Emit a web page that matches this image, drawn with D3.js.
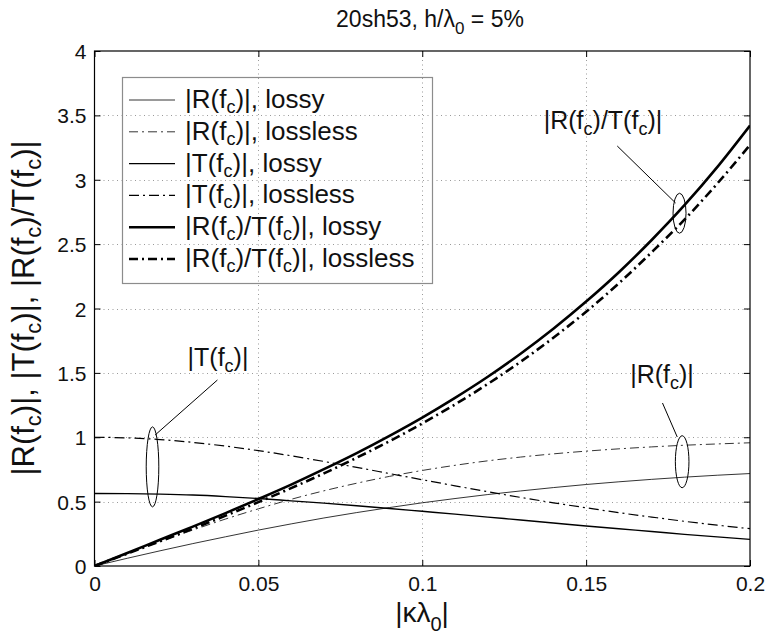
<!DOCTYPE html>
<html>
<head>
<meta charset="utf-8">
<script src="https://cdn.jsdelivr.net/npm/d3@7/dist/d3.min.js"></script>
<style>
  html, body { margin: 0; padding: 0; background: #fff; }
  svg { display: block; font-family: "Liberation Sans", Arial, Helvetica, sans-serif; }
</style>
</head>
<body>
<svg id="chart" width="765" height="641"></svg>
<script>
// |κλ0| sample points
const kappa = [0, 0.01, 0.02, 0.03, 0.04, 0.05, 0.06, 0.07, 0.08, 0.09, 0.10,
               0.11, 0.12, 0.13, 0.14, 0.15, 0.16, 0.17, 0.18, 0.19, 0.20];

const rLossy     = [0, 0.060, 0.118, 0.174, 0.227, 0.279, 0.327, 0.373, 0.415, 0.454, 0.491,
                    0.524, 0.555, 0.583, 0.609, 0.633, 0.654, 0.673, 0.690, 0.705, 0.718];
const rLossless  = [0, 0.095, 0.189, 0.279, 0.365, 0.444, 0.518, 0.584, 0.643, 0.696, 0.742,
                    0.782, 0.817, 0.846, 0.871, 0.892, 0.910, 0.925, 0.938, 0.948, 0.957];
const tLossy     = [0.563, 0.562, 0.558, 0.551, 0.539, 0.524, 0.506, 0.488, 0.468, 0.447, 0.425,
                    0.403, 0.380, 0.357, 0.334, 0.311, 0.289, 0.268, 0.246, 0.226, 0.207];
const tLossless  = [1.000, 0.995, 0.982, 0.960, 0.931, 0.896, 0.856, 0.812, 0.766, 0.718, 0.670,
                    0.623, 0.577, 0.533, 0.491, 0.452, 0.414, 0.380, 0.347, 0.317, 0.290];
const rtLossy    = [0, 0.101, 0.204, 0.306, 0.411, 0.520, 0.632, 0.752, 0.877, 1.011, 1.153,
                    1.306, 1.470, 1.649, 1.843, 2.054, 2.282, 2.532, 2.802, 3.098, 3.421];
const rtLossless = [0, 0.096, 0.192, 0.290, 0.391, 0.496, 0.605, 0.719, 0.841, 0.969, 1.107,
                    1.255, 1.414, 1.586, 1.773, 1.975, 2.196, 2.437, 2.690, 2.970, 3.270];

const xTicks = [0, 0.05, 0.1, 0.15, 0.2];
const xTickLabels = ["0", "0.05", "0.1", "0.15", "0.2"];
const yTicks = [0, 0.5, 1, 1.5, 2, 2.5, 3, 3.5, 4];
const yTickLabels = ["0", "0.5", "1", "1.5", "2", "2.5", "3", "3.5", "4"];

// text pieces: [string, isSubscript]
const legendLabels = [
  [["|R(f", 0], ["c", 1], [")|, lossy", 0]],
  [["|R(f", 0], ["c", 1], [")|, lossless", 0]],
  [["|T(f", 0], ["c", 1], [")|, lossy", 0]],
  [["|T(f", 0], ["c", 1], [")|, lossless", 0]],
  [["|R(f", 0], ["c", 1], [")/T(f", 0], ["c", 1], [")|, lossy", 0]],
  [["|R(f", 0], ["c", 1], [")/T(f", 0], ["c", 1], [")|, lossless", 0]]
];

const series = [
  { values: rLossy,     width: 0.8, dash: null },
  { values: rLossless,  width: 0.8, dash: "9,4,2,4" },
  { values: tLossy,     width: 1.4, dash: null },
  { values: tLossless,  width: 1.2, dash: "10,4,2,4" },
  { values: rtLossy,    width: 2.6, dash: null },
  { values: rtLossless, width: 2.6, dash: "9,4,2,4" }
];

const svg = d3.select("#chart");
const plotL = 94.5, plotR = 750, plotT = 51, plotB = 566;

const x = d3.scaleLinear().domain([0, 0.2]).range([plotL, plotR]);
const y = d3.scaleLinear().domain([0, 4]).range([plotB, plotT]);

function richText(sel, pieces, size, subSize, subShift) {
  pieces.forEach(([t, sub], i) => {
    const ts = sel.append("tspan").text(t);
    if (sub) {
      ts.attr("font-size", subSize).attr("dy", subShift);
    } else {
      ts.attr("font-size", size);
      const prevSub = i > 0 && pieces[i - 1][1];
      if (prevSub) ts.attr("dy", -subShift);
    }
  });
  return sel;
}

// grid
const grid = svg.append("g").attr("stroke", "#9a9a9a").attr("stroke-width", 1)
  .attr("stroke-dasharray", "1,3.5");
grid.selectAll(".gx").data(xTicks.slice(1, -1)).join("line")
  .attr("x1", d => Math.round(x(d)) + 0.5).attr("x2", d => Math.round(x(d)) + 0.5)
  .attr("y1", plotT).attr("y2", plotB);
grid.selectAll(".gy").data(yTicks.slice(1, -1)).join("line")
  .attr("x1", plotL).attr("x2", plotR)
  .attr("y1", d => Math.round(y(d)) + 0.5).attr("y2", d => Math.round(y(d)) + 0.5);

// axes with inward ticks on all four sides
const axB = svg.append("g").attr("transform", `translate(0,${plotB})`)
  .call(d3.axisBottom(x).tickValues(xTicks).tickSize(-6).tickPadding(10)
    .tickFormat((d, i) => xTickLabels[i]));
const axT = svg.append("g").attr("transform", `translate(0,${plotT})`)
  .call(d3.axisTop(x).tickValues(xTicks).tickSize(-6).tickFormat(""));
const axL = svg.append("g").attr("transform", `translate(${plotL},0)`)
  .call(d3.axisLeft(y).tickValues(yTicks).tickSize(-6).tickPadding(8)
    .tickFormat((d, i) => yTickLabels[i]));
const axR = svg.append("g").attr("transform", `translate(${plotR},0)`)
  .call(d3.axisRight(y).tickValues(yTicks).tickSize(-6).tickFormat(""));
[axB, axT, axL, axR].forEach(a => {
  a.select(".domain").remove();
  a.selectAll("line").attr("stroke", "#000").attr("stroke-width", 1);
  a.selectAll("text").attr("font-size", 21).attr("fill", "#111")
    .attr("font-family", "Liberation Sans, Arial, sans-serif");
});
axL.selectAll("text").attr("dy", "0.36em");

// frame
svg.append("rect").attr("x", plotL).attr("y", plotT)
  .attr("width", plotR - plotL).attr("height", plotB - plotT)
  .attr("fill", "none").attr("stroke", "#000").attr("stroke-width", 1.2);

// curves
const line = d3.line().x((d, i) => x(kappa[i])).y(d => y(d)).curve(d3.curveMonotoneX);
svg.append("clipPath").attr("id", "plotclip")
  .append("rect").attr("x", plotL).attr("y", plotT).attr("width", plotR - plotL).attr("height", plotB - plotT);
const curves = svg.append("g").attr("clip-path", "url(#plotclip)");
series.forEach(s => {
  curves.append("path").datum(s.values)
    .attr("d", line).attr("fill", "none").attr("stroke", "#000")
    .attr("stroke-width", s.width)
    .attr("stroke-dasharray", s.dash)
    .attr("stroke-linejoin", "round");
});

// legend
const lgX = 122, lgY = 77, lgW = 310, lgH = 206, rowH = 31.8, row0 = 100;
svg.append("rect").attr("x", lgX + 0.5).attr("y", lgY + 0.5).attr("width", lgW).attr("height", lgH)
  .attr("fill", "none").attr("stroke", "#8c8c8c").attr("stroke-width", 1.2);
series.forEach((s, i) => {
  const ry = row0 + i * rowH;
  svg.append("line").attr("x1", 129).attr("x2", 175).attr("y1", ry).attr("y2", ry)
    .attr("stroke", "#000").attr("stroke-width", s.width)
    .attr("stroke-dasharray", s.dash);
  richText(svg.append("text").attr("x", 185).attr("y", ry + 8).attr("fill", "#111"),
    legendLabels[i], 26, 18, 5);
});

// title
const title = svg.append("text").attr("x", 430).attr("y", 27)
  .attr("text-anchor", "middle").attr("fill", "#111");
richText(title, [["20sh53, h/λ", 0], ["0", 1], [" = 5%", 0]], 23, 17, 7);

// axis labels
const xl = svg.append("text").attr("x", 422).attr("y", 622)
  .attr("text-anchor", "middle").attr("fill", "#111");
richText(xl, [["|κλ", 0], ["0", 1], ["|", 0]], 28, 20, 9);

const yl = svg.append("text").attr("transform", "translate(34,308) rotate(-90)")
  .attr("text-anchor", "middle").attr("fill", "#111");
richText(yl, [["|R(f", 0], ["c", 1], [")|, |T(f", 0], ["c", 1], [")|, |R(f", 0], ["c", 1],
  [")/T(f", 0], ["c", 1], [")|", 0]], 31, 22, 7);

// annotations: labels, leaders and ellipses
const ann = svg.append("g").attr("stroke", "#000").attr("fill", "none").attr("stroke-width", 1);
// |R/T|
richText(svg.append("text").attr("x", 603).attr("y", 129).attr("text-anchor", "middle").attr("fill", "#111"),
  [["|R(f", 0], ["c", 1], [")/T(f", 0], ["c", 1], [")|", 0]], 25, 18, 6);
ann.append("line").attr("x1", x(0.1595)).attr("y1", 146).attr("x2", x(0.1773)).attr("y2", 203);
ann.append("ellipse").attr("cx", x(0.1785)).attr("cy", y(2.74)).attr("rx", 6.5).attr("ry", 20);
// |T|
richText(svg.append("text").attr("x", 218).attr("y", 366).attr("text-anchor", "middle").attr("fill", "#111"),
  [["|T(f", 0], ["c", 1], [")|", 0]], 25, 18, 6);
ann.append("line").attr("x1", x(0.0375)).attr("y1", 380).attr("x2", x(0.0185)).attr("y2", 435);
ann.append("ellipse").attr("cx", x(0.0177)).attr("cy", y(0.77)).attr("rx", 6.3).attr("ry", 40);
// |R|
richText(svg.append("text").attr("x", 662).attr("y", 383).attr("text-anchor", "middle").attr("fill", "#111"),
  [["|R(f", 0], ["c", 1], [")|", 0]], 25, 18, 6);
ann.append("line").attr("x1", x(0.1733)).attr("y1", 403).attr("x2", x(0.1778)).attr("y2", 437);
ann.append("ellipse").attr("cx", x(0.1793)).attr("cy", y(0.81)).attr("rx", 6.8).attr("ry", 26);
</script>
</body>
</html>
